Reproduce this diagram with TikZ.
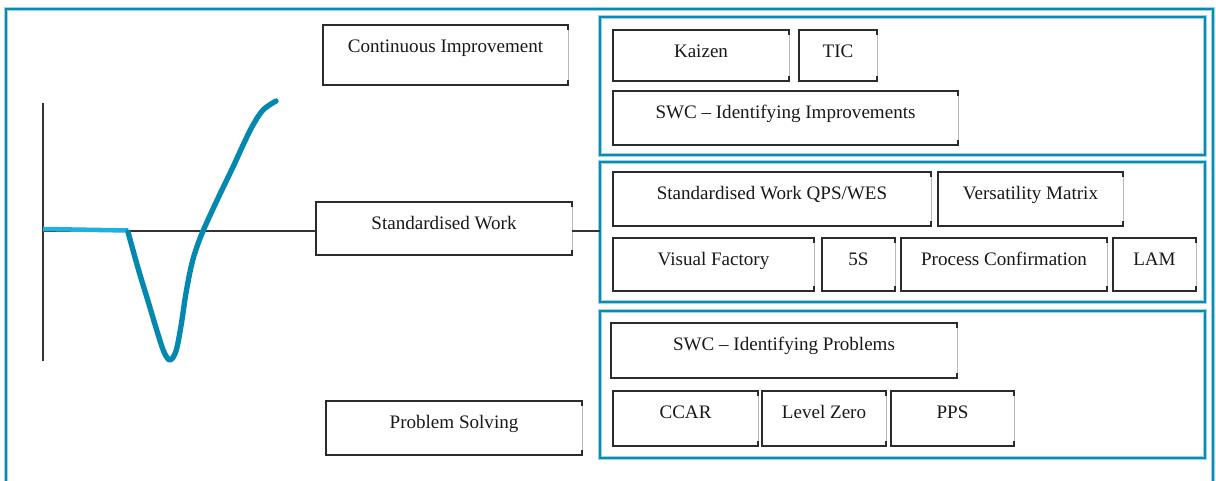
\documentclass[tikz,border=0pt]{standalone}
\usepackage{fontspec}
\setmainfont{Liberation Serif}
\usetikzlibrary{calc}
\definecolor{teal1}{HTML}{0A8AB2}
\definecolor{tealhalo}{HTML}{9AD3E6}
\definecolor{curveteal}{HTML}{0389B0}
\definecolor{lightseg}{HTML}{1DB0E2}
\definecolor{boxline}{HTML}{2B2B2B}
\definecolor{faintedge}{HTML}{B8B8B8}
% \mybox{name}{x1}{y1}{x2}{y2}{text}
\newcommand\mybox[6]{%
  \node[boxshape, minimum width={(#4-#2)*0.75pt}, minimum height={(#5-#3)*0.75pt}] (#1) at ({(#2+#4)/2},{(#3+#5)/2}) {};
  \draw[boxedge] ($(#1.north east)+(0,5)$) -- (#1.north east) -- (#1.north west) -- (#1.south west) -- (#1.south east) -- ++(0,-5);
  \draw[faintline] ($(#1.north east)+(0,5)$) -- ($(#1.south east)+(0,-5)$);
  \node[lbl] (#1-t) at ($(#1.north)+(0,27.5)$) {#6};
}
\begin{document}
\begin{tikzpicture}[x=0.75pt,y=-0.75pt,
  boxshape/.style={rectangle, inner sep=0pt, outer sep=0pt, draw=none},
  boxedge/.style={draw=boxline, line width=0.8pt},
  faintline/.style={draw=faintedge, line width=0.7pt},
  lbl/.style={anchor=base, inner sep=0pt, font=\fontsize{14.3}{17}\selectfont, text=black!90},
  grp/.style={rectangle, inner sep=0pt, outer sep=0pt, draw=teal1, line width=1.7pt,
              preaction={draw=tealhalo, line width=3.2pt}},
  frame/.style={draw=teal1, line width=1.9pt, preaction={draw=tealhalo, line width=3.2pt}},
  axisline/.style={draw=black!80, line width=0.8pt},
  curve/.style={draw=curveteal, line width=4pt, line cap=round, line join=round},
  flat/.style={draw=lightseg, line width=3.4pt},
]
\useasboundingbox (0,0) rectangle (1216,481);
\fill[white] (0,0) rectangle (1216,481);

% outer frame (bottom edge lies below the picture)
\draw[frame] (6,481) -- (6,9) -- (1213,9) -- (1213,481);

% group frames
\node[grp, minimum width={605*0.75pt}, minimum height={138*0.75pt}] (g1) at (902.5,86) {};
\node[grp, minimum width={605*0.75pt}, minimum height={140*0.75pt}] (g2) at (902.5,232) {};
\node[grp, minimum width={605*0.75pt}, minimum height={147*0.75pt}] (g3) at (902.5,384.5) {};

% left column boxes
\mybox{ci}{323}{25}{568}{85}{Continuous Improvement}
\mybox{sw}{316}{202}{572}{255}{Standardised Work}
\mybox{ps}{326}{401}{582}{455}{Problem Solving}

% group 1
\mybox{kaizen}{613}{30}{789}{81}{Kaizen}
\mybox{tic}{799}{30}{877}{81}{TIC}
\mybox{swci}{613}{91}{958}{145}{SWC -- Identifying Improvements}

% group 2
\mybox{qps}{613}{172}{931}{226}{Standardised Work QPS/WES}
\mybox{vm}{938}{172}{1123}{226}{Versatility Matrix}
\mybox{vf}{613}{238}{814}{291}{Visual Factory}
\mybox{fives}{822}{238}{895}{291}{5S}
\mybox{pc}{901}{238}{1107}{291}{Process Confirmation}
\mybox{lam}{1113}{238}{1196}{291}{LAM}

% group 3
\mybox{swcp}{611}{323}{957}{378}{SWC -- Identifying Problems}
\mybox{ccar}{613}{391}{758}{446}{CCAR}
\mybox{lz}{762}{391}{886}{446}{Level Zero}
\mybox{pps}{891}{391}{1014}{446}{PPS}

% chart axes
\coordinate (ytop) at (43,103);
\coordinate (ybot) at (43,361);
\coordinate (orig) at (43,231);
\draw[axisline] (ytop) -- (ybot);
\draw[axisline] (orig) -- (orig -| sw.west);
\draw[axisline] (sw.east |- orig) -- (g2.west |- orig);

% chart curve
\draw[flat] (43,229) -- (128,230.5);
\draw[curve] plot[smooth, tension=0.55] coordinates {(128,232) (138,268) (148,301) (157,331) (164,352) (170,360) (176,351) (181,326) (186,293) (192,263) (199,241) (207,222) (220,194) (233,167) (244,143) (253,125) (263,110) (276,101)};
\end{tikzpicture}
\end{document}
